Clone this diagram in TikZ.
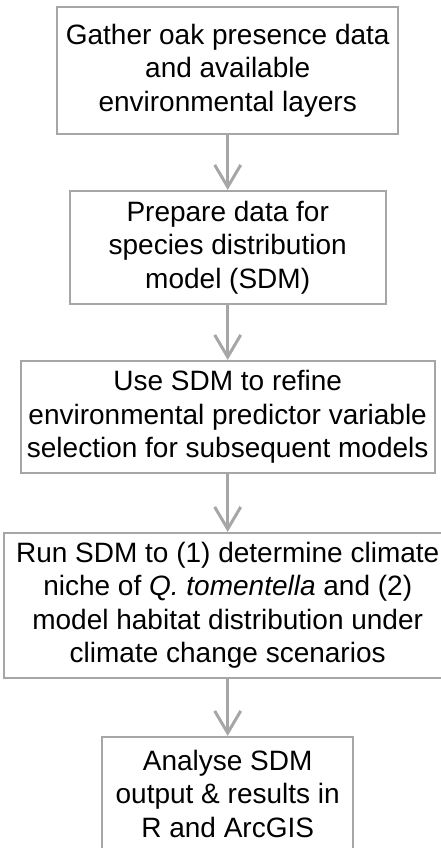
\documentclass[tikz,border=0pt]{standalone}
\usepackage{fontspec}
\setmainfont{Liberation Sans}
\usetikzlibrary{arrows.meta}
\definecolor{gris}{RGB}{166,166,166}
\begin{document}
\begin{tikzpicture}[x=1pt,y=1pt,
    paso/.style={draw=gris, line width=2.2pt, inner sep=0pt, align=center,
      font=\fontsize{28}{33.5}\selectfont},
    flecha/.style={gris, line width=3pt, -{Straight Barb[length=22pt,width=26pt]}}]
              \useasboundingbox (0,0) rectangle (441,-848);

              % Cajas
              \node[paso, minimum width=341pt, minimum height=127pt] (reunir) at (227.7,-70.5)
                {Gather oak presence data\\and available\\environmental layers};
              \node[paso, minimum width=316pt, minimum height=113pt] (preparar) at (227.7,-247.5)
                {Prepare data for\\species distribution\\model (SDM)};
              \node[paso, minimum width=414pt, minimum height=112pt] (refinar) at (227.7,-417)
                {Use SDM to refine\\environmental predictor variable\\selection for subsequent models};
              \node[paso, minimum width=447pt, minimum height=145pt] (modelar) at (227.7,-605.5)
                {Run SDM to (1) determine climate\\niche of \textit{Q. tomentella} and (2)\\model habitat distribution under\\climate change scenarios};
              \node[paso, minimum width=251pt, minimum height=113pt] (analizar) at (227.7,-793.5)
                {Analyse SDM\\output \& results in\\R and ArcGIS};

              % Flechas
              \draw[flecha] (reunir) -- (preparar);
              \draw[flecha] (preparar) -- (refinar);
              \draw[flecha] (refinar) -- (modelar);
              \draw[flecha] (modelar) -- (analizar);

            \end{tikzpicture}
\end{document}
